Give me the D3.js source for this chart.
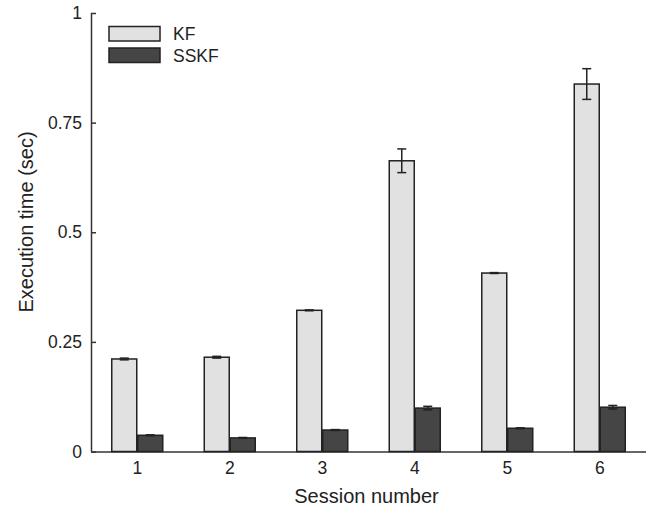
<html>
  <head>
    <script src="https://cdn.jsdelivr.net/npm/d3@7"></script>
    <style>
      * {
        margin: 0;
        padding: 0;
      }
      body {
        background-color: white;
        font-family: "Liberation Sans", Arial, sans-serif;
      }
    </style>
  </head>
  <body>
    <div id="chart"></div>
    <script>
      const sessions = ["1", "2", "3", "4", "5", "6"];
      const series = ["KF", "SSKF"];
      const kfTime = [0.211, 0.215, 0.322, 0.663, 0.407, 0.838];
      const kfErr = [0.002, 0.002, 0.001, 0.027, 0.001, 0.035];
      const sskfTime = [0.037, 0.031, 0.049, 0.099, 0.053, 0.101];
      const sskfErr = [0.001, 0.001, 0.001, 0.004, 0.001, 0.004];
      const yTicks = [0, 0.25, 0.5, 0.75, 1];
      const yTickLabels = ["0", "0.25", "0.5", "0.75", "1"];

      const w = 659;
      const h = 508;
      const padLeft = 91;
      const padRight = 646;
      const padTop = 13;
      const padBottom = 451.5;
      const barW = 25;
      const colors = { KF: "#e1e1e1", SSKF: "#454545" };

      const svg = d3
        .select("#chart")
        .append("svg")
        .attr("width", w)
        .attr("height", h);

      const xScale = d3.scaleBand().domain(sessions).range([padLeft, padRight]);
      const yScale = d3.scaleLinear().domain([0, 1]).range([padBottom, padTop]);

      // bars data built from the arrays
      const bars = [];
      sessions.forEach((s, i) => {
        bars.push({ s: s, key: "KF", v: kfTime[i], e: kfErr[i], off: -barW - 0.5 });
        bars.push({ s: s, key: "SSKF", v: sskfTime[i], e: sskfErr[i], off: 0.5 });
      });

      const cx = (d) => xScale(d) + xScale.bandwidth() / 2;

      // axes
      const xAxis = d3.axisBottom(xScale).tickSize(-5).tickPadding(10);
      const yAxis = d3
        .axisLeft(yScale)
        .tickValues(yTicks)
        .tickFormat((d, i) => yTickLabels[i])
        .tickSize(-5)
        .tickPadding(9);

      const gx = svg
        .append("g")
        .attr("transform", "translate(0," + padBottom + ")")
        .call(xAxis);
      const gy = svg
        .append("g")
        .attr("transform", "translate(" + padLeft + ",0)")
        .call(yAxis);

      [gx, gy].forEach((g) => {
        g.select(".domain").attr("stroke", "#333").attr("stroke-width", 1.5);
        g.selectAll(".tick line").attr("stroke", "#333").attr("stroke-width", 1.5);
        g.selectAll(".tick text")
          .attr("fill", "#222")
          .style("font-size", "17.5px")
          .style("font-family", "Liberation Sans, Arial, sans-serif");
      });
      gy.select(".domain").attr("d", "M0.5," + padTop + "V" + padBottom);
      gx.select(".domain").attr("d", "M" + padLeft + ",0.5H" + padRight);

      svg
        .selectAll("rect.bar")
        .data(bars)
        .enter()
        .append("rect")
        .attr("class", "bar")
        .attr("x", (d) => cx(d.s) + d.off)
        .attr("y", (d) => yScale(d.v))
        .attr("width", barW)
        .attr("height", (d) => yScale(0) - yScale(d.v))
        .attr("fill", (d) => colors[d.key])
        .attr("stroke", "#222")
        .attr("stroke-width", 1.5);

      // error bars
      const eb = svg
        .selectAll("g.err")
        .data(bars)
        .enter()
        .append("g")
        .attr("class", "err")
        .attr("stroke", "#222")
        .attr("stroke-width", 1.5);
      eb.append("line")
        .attr("x1", (d) => cx(d.s) + d.off + barW / 2)
        .attr("x2", (d) => cx(d.s) + d.off + barW / 2)
        .attr("y1", (d) => yScale(d.v - d.e))
        .attr("y2", (d) => yScale(d.v + d.e));
      ["+", "-"].forEach((sign) => {
        eb.append("line")
          .attr("x1", (d) => cx(d.s) + d.off + barW / 2 - 4.5)
          .attr("x2", (d) => cx(d.s) + d.off + barW / 2 + 4.5)
          .attr("y1", (d) => yScale(sign == "+" ? d.v + d.e : d.v - d.e))
          .attr("y2", (d) => yScale(sign == "+" ? d.v + d.e : d.v - d.e));
      });

      // axis titles
      svg
        .append("text")
        .attr("x", 366.5)
        .attr("y", 502.5)
        .attr("text-anchor", "middle")
        .attr("fill", "#222")
        .style("font-size", "20px")
        .text("Session number");
      svg
        .append("text")
        .attr("transform", "translate(33,222) rotate(-90)")
        .attr("text-anchor", "middle")
        .attr("fill", "#222")
        .style("font-size", "20px")
        .text("Execution time (sec)");

      // legend
      const legend = svg
        .selectAll("g.legend")
        .data(series)
        .enter()
        .append("g")
        .attr("class", "legend")
        .attr("transform", (d, i) => "translate(109," + (26.5 + i * 21.5) + ")");
      legend
        .append("rect")
        .attr("width", 51)
        .attr("height", 14.5)
        .attr("fill", (d) => colors[d])
        .attr("stroke", "#222")
        .attr("stroke-width", 1.5);
      legend
        .append("text")
        .attr("x", 64)
        .attr("y", 13.5)
        .attr("fill", "#222")
        .style("font-size", "17.5px")
        .text((d) => d);
    </script>
  </body>
</html>
